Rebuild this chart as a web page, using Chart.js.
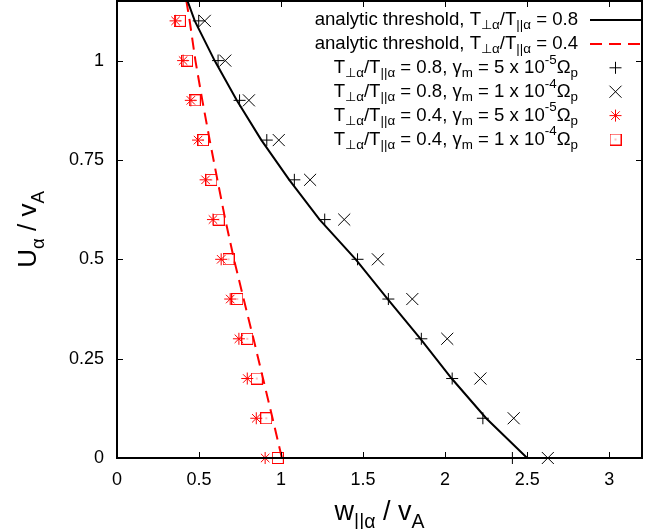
<!DOCTYPE html>
<html>
<head>
<meta charset="utf-8">
<script src="https://cdn.jsdelivr.net/npm/chart.js@4/dist/chart.umd.min.js"></script>
<style>
  body { margin: 0; background: #fff; }
  #wrap { width: 662px; height: 529px; }
</style>
</head>
<body>
<div id="wrap"><canvas id="thresholdChart"></canvas></div>
<script>
// U_alpha / v_A levels where the simulation points sit
const uLevels = [0, 0.1, 0.2, 0.3, 0.4, 0.5, 0.6, 0.7, 0.8, 0.9, 1.0, 1.1];
// w_||alpha / v_A values
const plus08   = [2.41, 2.23, 2.043, 1.855, 1.654, 1.466, 1.266, 1.081, 0.913, 0.747, 0.616, 0.498];
const cross08  = [2.626, 2.418, 2.215, 2.013, 1.80, 1.59, 1.385, 1.177, 0.986, 0.804, 0.66, 0.535];
const star04   = [0.903, 0.849, 0.794, 0.743, 0.69, 0.635, 0.585, 0.54, 0.494, 0.45, 0.403, 0.357];
const square04 = [0.98, 0.91, 0.852, 0.794, 0.733, 0.68, 0.62, 0.575, 0.524, 0.474, 0.427, 0.383];

// analytic threshold curves
const threshU  = [0, 0.1, 0.2, 0.3, 0.4, 0.5, 0.6, 0.7, 0.8, 0.9, 1.0, 1.1, 1.15];
const thresh08 = [2.5, 2.25, 2.04, 1.85, 1.65, 1.455, 1.235, 1.05, 0.88, 0.73, 0.595, 0.474, 0.43];
const thresh04 = [1.005, 0.948, 0.89, 0.832, 0.772, 0.713, 0.66, 0.612, 0.565, 0.52, 0.478, 0.443, 0.423];

const xTicks = [0, 0.5, 1, 1.5, 2, 2.5, 3];
const yTicks = [0, 0.25, 0.5, 0.75, 1];

const FONT = "'Liberation Sans', Arial, Helvetica, sans-serif";
Chart.defaults.font.family = FONT;
Chart.defaults.font.size = 18;
Chart.defaults.color = '#000';

function pairs(xs, ys) {
    return xs.map((x, i) => ({ x: x, y: ys[i] }));
}

// open square with a dot in the middle
function dotSquare() {
    const c = document.createElement('canvas');
    c.width = 12; c.height = 12;
    const g = c.getContext('2d');
    g.strokeStyle = 'rgb(255,0,0)';
    g.lineWidth = 1;
    g.strokeRect(0.5, 0.5, 11, 11);
    g.fillStyle = 'rgb(255,0,0)';
    g.fillRect(5.5, 5.5, 1, 1);
    return c;
}

// "_{..}" is a subscript, "^{..}" a superscript
function parseRich(str) {
    const segs = [];
    let i = 0, buf = '';
    while (i < str.length) {
        const ch = str[i];
        if ((ch === '_' || ch === '^') && str[i + 1] === '{') {
            if (buf) { segs.push({ t: buf, m: 0 }); buf = ''; }
            const end = str.indexOf('}', i);
            segs.push({ t: str.slice(i + 2, end), m: ch === '_' ? 1 : 2 });
            i = end + 1;
        } else {
            buf += ch;
            i++;
        }
    }
    if (buf) segs.push({ t: buf, m: 0 });
    return segs;
}

function drawRich(ctx, str, x, y, size, align) {
    const segs = parseRich(str);
    const small = size * 0.72;
    let total = 0;
    segs.forEach(s => {
        ctx.font = (s.m ? small : size) + 'px ' + FONT;
        s.w = ctx.measureText(s.t).width;
        total += s.w;
    });
    let cx = align === 'right' ? x - total : (align === 'center' ? x - total / 2 : x);
    segs.forEach(s => {
        ctx.font = (s.m ? small : size) + 'px ' + FONT;
        const dy = s.m === 1 ? size * 0.3 : (s.m === 2 ? -size * 0.42 : 0);
        ctx.fillText(s.t, cx, y + dy);
        cx += s.w;
    });
}

const framePlugin = {
    id: 'frame',
    afterDraw(chart) {
        const ctx = chart.ctx;
        const a = chart.chartArea;
        const xs = chart.scales.x, ys = chart.scales.y;
        ctx.save();
        ctx.strokeStyle = '#000';
        ctx.lineWidth = 1;
        const tl = 6;
        ctx.beginPath();
        xTicks.forEach(v => {
            const px = Math.round(xs.getPixelForValue(v)) + 0.5;
            ctx.moveTo(px, a.bottom); ctx.lineTo(px, a.bottom - tl);
            ctx.moveTo(px, a.top); ctx.lineTo(px, a.top + tl);
        });
        yTicks.forEach(v => {
            const py = Math.round(ys.getPixelForValue(v)) + 0.5;
            ctx.moveTo(a.left, py); ctx.lineTo(a.left + tl, py);
            ctx.moveTo(a.right, py); ctx.lineTo(a.right - tl, py);
        });
        ctx.stroke();
        ctx.lineWidth = 2;
        ctx.strokeRect(a.left, a.top, a.right - a.left, a.bottom - a.top);

        // axis titles
        ctx.fillStyle = '#000';
        ctx.textBaseline = 'alphabetic';
        drawRich(ctx, 'w_{||α} / v_{A}', (a.left + a.right) / 2, 520, 27, 'center');
        ctx.translate(36, (a.top + a.bottom) / 2);
        ctx.rotate(-Math.PI / 2);
        drawRich(ctx, 'U_{α} / v_{A}', 0, 0, 26, 'center');
        ctx.restore();

        // key, gnuplot style: text right aligned, sample on the right
        ctx.save();
        ctx.textBaseline = 'middle';
        ctx.fillStyle = '#000';
        chart.data.datasets.forEach((ds, i) => {
            const y = 20 + i * 23.9;
            drawRich(ctx, ds.label, 578, y, 18.6, 'right');
            if (ds.showLine) {
                ctx.save();
                ctx.strokeStyle = ds.borderColor;
                ctx.lineWidth = ds.borderWidth;
                ctx.setLineDash(ds.borderDash || []);
                ctx.beginPath();
                ctx.moveTo(590, y); ctx.lineTo(a.right - 1, y);
                ctx.stroke();
                ctx.restore();
            } else {
                ctx.save();
                ctx.strokeStyle = ds.borderColor;
                ctx.fillStyle = 'rgba(0,0,0,0)';
                ctx.lineWidth = ds.borderWidth;
                Chart.helpers.drawPoint(ctx, {
                    pointStyle: ds.pointStyle,
                    radius: ds.pointRadius,
                    borderWidth: ds.borderWidth,
                    rotation: 0
                }, 615.5, y);
                ctx.restore();
            }
        });
        ctx.restore();
    }
};

new Chart(document.getElementById('thresholdChart'), {
    type: 'scatter',
    data: {
        datasets: [
            {
                label: 'analytic threshold, T_{⊥α}/T_{||α} = 0.8',
                data: pairs(thresh08, threshU),
                showLine: true,
                borderColor: '#000',
                borderWidth: 2,
                pointRadius: 0
            }, {
                label: 'analytic threshold, T_{⊥α}/T_{||α} = 0.4',
                data: pairs(thresh04, threshU),
                showLine: true,
                borderColor: 'rgb(255,0,0)',
                borderWidth: 2,
                borderDash: [12, 7],
                pointRadius: 0
            }, {
                label: 'T_{⊥α}/T_{||α} = 0.8, γ_{m} = 5 x 10^{-5}Ω_{p}',
                data: pairs(plus08, uLevels),
                pointStyle: 'cross',
                pointRadius: 6,
                borderColor: '#000',
                borderWidth: 1,
                clip: false
            }, {
                label: 'T_{⊥α}/T_{||α} = 0.8, γ_{m} = 1 x 10^{-4}Ω_{p}',
                data: pairs(cross08, uLevels),
                pointStyle: 'crossRot',
                pointRadius: 8.5,
                borderColor: '#000',
                borderWidth: 1,
                clip: false
            }, {
                label: 'T_{⊥α}/T_{||α} = 0.4, γ_{m} = 5 x 10^{-5}Ω_{p}',
                data: pairs(star04, uLevels),
                pointStyle: 'star',
                pointRadius: 6,
                borderColor: 'rgb(255,0,0)',
                borderWidth: 1,
                clip: false
            }, {
                label: 'T_{⊥α}/T_{||α} = 0.4, γ_{m} = 1 x 10^{-4}Ω_{p}',
                data: pairs(square04, uLevels),
                pointStyle: dotSquare(),
                pointRadius: 6,
                borderColor: 'rgb(255,0,0)',
                borderWidth: 1,
                clip: false
            }
        ]
    },
    options: {
        responsive: true,
        maintainAspectRatio: false,
        animation: false,
        layout: { autoPadding: false, padding: { top: 1, right: 20, left: 0, bottom: 0 } },
        plugins: {
            legend: { display: false },
            tooltip: { enabled: false }
        },
        scales: {
            x: {
                type: 'linear',
                min: 0,
                max: 3.2,
                grid: { display: false, drawTicks: false },
                border: { display: false },
                afterBuildTicks: s => { s.ticks = xTicks.map(v => ({ value: v })); },
                afterFit: s => { s.height = 71; s.paddingLeft = 0; s.paddingRight = 0; },
                ticks: {
                    padding: 11,
                    maxRotation: 0,
                    callback: v => String(v)
                }
            },
            y: {
                type: 'linear',
                min: 0,
                max: 1.15,
                grid: { display: false, drawTicks: false },
                border: { display: false },
                afterBuildTicks: s => { s.ticks = yTicks.map(v => ({ value: v })); },
                afterFit: s => { s.width = 117; s.paddingTop = 0; s.paddingBottom = 0; },
                ticks: {
                    padding: 13,
                    callback: v => String(v)
                }
            }
        }
    },
    plugins: [framePlugin]
});
</script>
</body>
</html>
